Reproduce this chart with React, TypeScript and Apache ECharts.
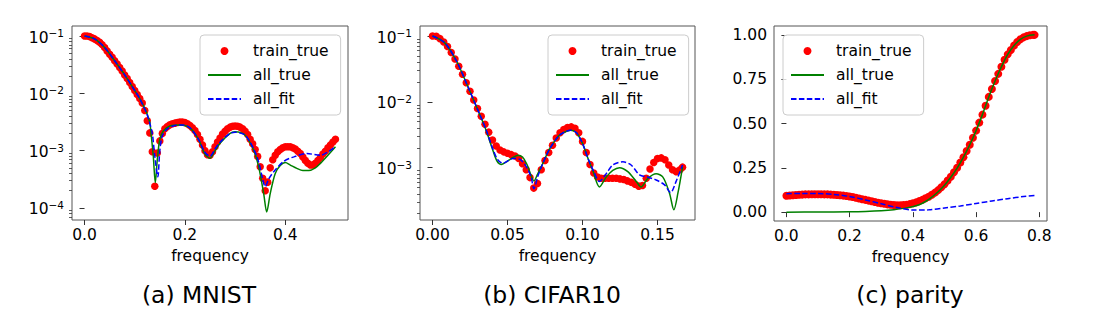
import React, { useEffect, useRef } from "react";
import * as echarts from "echarts";

// ---------------- data ----------------
const SERIES_NAMES = ["train_true", "all_true", "all_fit"];
const PANEL_TITLES = ["(a) MNIST", "(b) CIFAR10", "(c) parity"];
const X_AXIS_NAME = "frequency";

// Panel (a) MNIST
const P1_TRAIN_X = [0, 0.005, 0.01, 0.015, 0.02, 0.025, 0.03, 0.035, 0.04, 0.045, 0.05, 0.055, 0.06, 0.065, 0.07, 0.075, 0.08, 0.085, 0.09, 0.095, 0.1, 0.105, 0.11, 0.115, 0.12, 0.125, 0.13, 0.135, 0.14, 0.145, 0.15, 0.155, 0.16, 0.165, 0.17, 0.175, 0.18, 0.185, 0.19, 0.195, 0.2, 0.205, 0.21, 0.215, 0.22, 0.225, 0.23, 0.235, 0.24, 0.245, 0.25, 0.255, 0.26, 0.265, 0.27, 0.275, 0.28, 0.285, 0.29, 0.295, 0.3, 0.305, 0.31, 0.315, 0.32, 0.325, 0.33, 0.335, 0.34, 0.345, 0.35, 0.355, 0.36, 0.365, 0.37, 0.375, 0.38, 0.385, 0.39, 0.395, 0.4, 0.405, 0.41, 0.415, 0.42, 0.425, 0.43, 0.435, 0.44, 0.445, 0.45, 0.455, 0.46, 0.465, 0.47, 0.475, 0.48, 0.485, 0.49, 0.495, 0.5];
const P1_TRAIN_Y = [0.1, 0.1, 0.0977, 0.0933, 0.0891, 0.0832, 0.0776, 0.0708, 0.0631, 0.055, 0.0479, 0.0427, 0.0372, 0.0324, 0.0282, 0.0245, 0.0209, 0.0182, 0.0155, 0.0132, 0.0112, 0.00955, 0.00813, 0.00676, 0.00501, 0.00331, 0.00204, 0.000955, 0.00024, 0.000912, 0.00148, 0.002, 0.0024, 0.00263, 0.00282, 0.00295, 0.00302, 0.00309, 0.00316, 0.00316, 0.00309, 0.00295, 0.00275, 0.00251, 0.00224, 0.00191, 0.00158, 0.00126, 0.001, 0.000851, 0.000832, 0.000955, 0.00117, 0.00141, 0.00166, 0.00195, 0.00219, 0.0024, 0.00257, 0.00266, 0.00269, 0.00266, 0.00257, 0.0024, 0.00219, 0.00191, 0.00158, 0.00132, 0.00105, 0.000794, 0.000525, 0.000331, 0.0002, 0.000282, 0.000501, 0.000692, 0.000832, 0.000955, 0.00105, 0.00112, 0.00117, 0.00117, 0.00117, 0.00112, 0.00107, 0.000977, 0.000891, 0.000776, 0.000676, 0.000603, 0.000562, 0.000562, 0.000603, 0.000676, 0.000759, 0.000871, 0.000977, 0.00112, 0.00126, 0.00141, 0.00158];
const P1_TRUE_X = [0, 0.02, 0.04, 0.06, 0.08, 0.1, 0.11, 0.12, 0.125, 0.13, 0.133, 0.137, 0.141, 0.145, 0.15, 0.157, 0.17, 0.19, 0.21, 0.227, 0.24, 0.25, 0.26, 0.27, 0.29, 0.3, 0.32, 0.337, 0.347, 0.357, 0.363, 0.37, 0.38, 0.39, 0.4, 0.41, 0.423, 0.435, 0.447, 0.46, 0.47, 0.485, 0.5];
const P1_TRUE_Y = [0.1, 0.089, 0.063, 0.037, 0.021, 0.0112, 0.0081, 0.0055, 0.0043, 0.0031, 0.0018, 0.0008, 0.000275, 0.0007, 0.00158, 0.0022, 0.0027, 0.0028, 0.0025, 0.00158, 0.00087, 0.00074, 0.001, 0.00135, 0.002, 0.00214, 0.00186, 0.00102, 0.00052, 0.000178, 0.000085, 0.000178, 0.0004, 0.00055, 0.00062, 0.00056, 0.00049, 0.00045, 0.00045, 0.0005, 0.0006, 0.00083, 0.00117];
const P1_FIT_X = [0, 0.02, 0.04, 0.06, 0.08, 0.1, 0.11, 0.12, 0.125, 0.13, 0.135, 0.14, 0.146, 0.15, 0.155, 0.165, 0.18, 0.195, 0.21, 0.227, 0.24, 0.25, 0.26, 0.27, 0.29, 0.3, 0.32, 0.337, 0.347, 0.355, 0.36, 0.367, 0.377, 0.397, 0.417, 0.443, 0.47, 0.485, 0.5];
const P1_FIT_Y = [0.1, 0.089, 0.063, 0.037, 0.021, 0.0112, 0.0081, 0.0053, 0.0042, 0.003, 0.002, 0.0008, 0.00035, 0.001, 0.0018, 0.0024, 0.00275, 0.0028, 0.0025, 0.00158, 0.00093, 0.0008, 0.00107, 0.0014, 0.002, 0.0021, 0.00186, 0.00107, 0.00063, 0.00032, 0.000234, 0.00032, 0.00043, 0.00065, 0.00078, 0.00089, 0.00083, 0.00095, 0.00117];
const P1_X_TICKS = [0, 0.2, 0.4];
const P1_Y_TICKS = [1e-4, 1e-3, 1e-2, 1e-1];

// Panel (b) CIFAR10
const P2_TRAIN_X = [0, 0.0025, 0.005, 0.0075, 0.01, 0.0125, 0.015, 0.0175, 0.02, 0.0225, 0.025, 0.0275, 0.03, 0.0325, 0.035, 0.0375, 0.04, 0.0425, 0.045, 0.0475, 0.05, 0.0525, 0.055, 0.0575, 0.06, 0.0625, 0.065, 0.0675, 0.07, 0.0725, 0.075, 0.0775, 0.08, 0.0825, 0.085, 0.0875, 0.09, 0.0925, 0.095, 0.0975, 0.1, 0.1025, 0.105, 0.1075, 0.11, 0.1125, 0.115, 0.1175, 0.12, 0.1225, 0.125, 0.1275, 0.13, 0.1325, 0.135, 0.1375, 0.14, 0.1425, 0.145, 0.1475, 0.15, 0.1525, 0.155, 0.1575, 0.16, 0.1625, 0.165, 0.1667];
const P2_TRAIN_Y = [0.1, 0.0989, 0.0912, 0.0813, 0.0692, 0.0562, 0.0447, 0.0347, 0.0263, 0.0195, 0.0145, 0.0107, 0.00794, 0.00603, 0.00457, 0.00347, 0.00263, 0.00214, 0.00186, 0.00174, 0.00166, 0.00158, 0.00151, 0.00138, 0.00115, 0.000933, 0.000708, 0.00049, 0.000575, 0.000933, 0.00129, 0.0017, 0.00219, 0.00282, 0.00339, 0.0038, 0.00407, 0.00417, 0.00398, 0.00339, 0.00251, 0.0017, 0.00112, 0.000832, 0.000724, 0.000692, 0.000692, 0.000692, 0.000692, 0.000692, 0.000676, 0.000661, 0.000631, 0.000603, 0.000562, 0.000525, 0.000537, 0.000692, 0.000955, 0.0012, 0.00138, 0.00141, 0.00132, 0.0011, 0.000933, 0.000871, 0.000933, 0.00102];
const P2_TRUE_X = [0, 0.008, 0.016, 0.024, 0.032, 0.036, 0.04, 0.043, 0.046, 0.05, 0.054, 0.057, 0.06, 0.063, 0.0655, 0.0676, 0.07, 0.0736, 0.078, 0.084, 0.088, 0.092, 0.096, 0.1, 0.104, 0.107, 0.1113, 0.1158, 0.1202, 0.1247, 0.1302, 0.1358, 0.139, 0.1436, 0.1491, 0.1536, 0.158, 0.1609, 0.1636, 0.1667];
const P2_TRUE_Y = [0.1, 0.0794, 0.0417, 0.0162, 0.00603, 0.00355, 0.00191, 0.00126, 0.00112, 0.00126, 0.00145, 0.00155, 0.00145, 0.00112, 0.00079, 0.00063, 0.00079, 0.00117, 0.00191, 0.00302, 0.00347, 0.00372, 0.00339, 0.00234, 0.00132, 0.00089, 0.00051, 0.00072, 0.00091, 0.001, 0.00087, 0.00062, 0.00051, 0.00069, 0.00081, 0.00072, 0.00041, 0.00023, 0.00041, 0.00102];
const P2_FIT_X = [0, 0.008, 0.016, 0.024, 0.032, 0.036, 0.04, 0.0435, 0.047, 0.0536, 0.058, 0.0624, 0.0658, 0.0676, 0.0702, 0.0736, 0.078, 0.084, 0.088, 0.092, 0.096, 0.1, 0.104, 0.107, 0.1113, 0.1158, 0.1202, 0.1269, 0.1324, 0.138, 0.1436, 0.1491, 0.1547, 0.1587, 0.1624, 0.1667];
const P2_FIT_Y = [0.1, 0.0794, 0.0417, 0.0162, 0.00603, 0.00363, 0.002, 0.00132, 0.00117, 0.00138, 0.00135, 0.00105, 0.00071, 0.00048, 0.00074, 0.00117, 0.00191, 0.00302, 0.00347, 0.00372, 0.00339, 0.00234, 0.00132, 0.00093, 0.00062, 0.00081, 0.0011, 0.00123, 0.0011, 0.00078, 0.00072, 0.00065, 0.00055, 0.00042, 0.00062, 0.0011];
const P2_X_TICKS = [0, 0.05, 0.1, 0.15];
const P2_Y_TICKS = [1e-3, 1e-2, 1e-1];

// Panel (c) parity
const P3_TRAIN_X = [0, 0.01, 0.02, 0.03, 0.04, 0.05, 0.06, 0.07, 0.08, 0.09, 0.1, 0.11, 0.12, 0.13, 0.14, 0.15, 0.16, 0.17, 0.18, 0.19, 0.2, 0.21, 0.22, 0.23, 0.24, 0.25, 0.26, 0.27, 0.28, 0.29, 0.3, 0.31, 0.32, 0.33, 0.34, 0.35, 0.36, 0.37, 0.38, 0.39, 0.4, 0.41, 0.42, 0.43, 0.44, 0.45, 0.46, 0.47, 0.48, 0.49, 0.5, 0.51, 0.52, 0.53, 0.54, 0.55, 0.56, 0.57, 0.58, 0.59, 0.6, 0.61, 0.62, 0.63, 0.64, 0.65, 0.66, 0.67, 0.68, 0.69, 0.7, 0.71, 0.72, 0.73, 0.74, 0.75, 0.76, 0.77, 0.78, 0.785];
const P3_TRAIN_Y = [0.092, 0.094, 0.095, 0.097, 0.098, 0.099, 0.1, 0.1, 0.101, 0.101, 0.101, 0.101, 0.1, 0.1, 0.099, 0.098, 0.097, 0.095, 0.093, 0.091, 0.088, 0.085, 0.081, 0.077, 0.073, 0.069, 0.065, 0.061, 0.057, 0.053, 0.05, 0.047, 0.044, 0.042, 0.04, 0.039, 0.039, 0.04, 0.042, 0.045, 0.05, 0.055, 0.062, 0.069, 0.078, 0.087, 0.098, 0.11, 0.124, 0.14, 0.157, 0.178, 0.2, 0.225, 0.25, 0.28, 0.31, 0.345, 0.38, 0.42, 0.46, 0.505, 0.55, 0.6, 0.65, 0.695, 0.74, 0.78, 0.82, 0.86, 0.89, 0.915, 0.94, 0.96, 0.975, 0.986, 0.993, 0.998, 1.0, 1.0];
const P3_TRUE_X = [0, 0.1, 0.2, 0.25, 0.3, 0.34, 0.38, 0.42, 0.44, 0.46, 0.48, 0.5, 0.52, 0.54, 0.56, 0.58, 0.6, 0.62, 0.64, 0.66, 0.68, 0.7, 0.72, 0.74, 0.76, 0.785];
const P3_TRUE_Y = [0, 0.0005, 0.002, 0.004, 0.008, 0.014, 0.024, 0.042, 0.06, 0.085, 0.115, 0.152, 0.197, 0.248, 0.31, 0.38, 0.46, 0.55, 0.65, 0.74, 0.82, 0.89, 0.94, 0.975, 0.993, 1.0];
const P3_FIT_X = [0, 0.05, 0.1, 0.15, 0.2, 0.25, 0.3, 0.35, 0.4, 0.45, 0.5, 0.55, 0.6, 0.65, 0.7, 0.75, 0.785];
const P3_FIT_Y = [0.104, 0.105, 0.105, 0.1, 0.088, 0.069, 0.047, 0.026, 0.012, 0.013, 0.023, 0.035, 0.049, 0.063, 0.076, 0.088, 0.094];
const P3_X_TICKS = [0, 0.2, 0.4, 0.6, 0.8];
const P3_Y_TICKS = [0, 0.25, 0.5, 0.75, 1.0];

// minor log ticks (2..9 x 10^k)
const MINOR_MULTS = [2, 3, 4, 5, 6, 7, 8, 9];
const MINOR_DECADES = [1e-5, 1e-4, 1e-3, 1e-2, 1e-1];

// ---------------- styling ----------------
const FONT = '"DejaVu Sans", Verdana, sans-serif';
const FS = 15.5;
const RED = "#ff0000";
const GREEN = "#008000";
const BLUE = "#0000ff";
const SPINE = "#555555";

const zip = (xs: number[], ys: number[]) => xs.map((x, i) => [x, ys[i]]);
const minorTicks = MINOR_DECADES.flatMap((d) => MINOR_MULTS.map((m) => +(m * d).toPrecision(3)));

const GRIDS = [
  { left: 72, top: 26, width: 276, height: 194 },
  { left: 420, top: 26, width: 275, height: 194 },
  { left: 774, top: 26, width: 273, height: 195 },
];
const LEGEND_LEFT = [200, 548, 783];
const TITLE_X = [199, 552, 910];

export default function App() {
  const ref = useRef<HTMLDivElement>(null);
  useEffect(() => {
    if (!ref.current) return;
    const chart = echarts.init(ref.current, undefined, { renderer: "svg" });

    const textBase = { fontFamily: FONT, fontSize: FS, color: "#000" };

    const xAxisCfg = (gi: number, min: number, max: number, ticks: number[], dec: number) => ({
      type: "value",
      gridIndex: gi,
      min,
      max,
      axisLine: { show: false },
      splitLine: { show: false },
      axisTick: { show: true, length: 5, lineStyle: { color: "#333", width: 1 }, customValues: ticks },
      axisLabel: { ...textBase, margin: 7, customValues: ticks, formatter: (v: number) => v.toFixed(dec) },
      name: X_AXIS_NAME,
      nameLocation: "middle",
      nameGap: 28,
      nameTextStyle: { ...textBase },
    });

    const logLabel = (v: number) => {
      const e = Math.round(Math.log10(v));
      return "{b|10}{s|\u2212" + Math.abs(e) + "}";
    };
    const rich = {
      b: { fontFamily: FONT, fontSize: FS, color: "#000", lineHeight: 17, padding: [3, 0, 0, 0] },
      s: { fontFamily: FONT, fontSize: 10.5, color: "#000", lineHeight: 12, verticalAlign: "top" },
    };

    const logAxis = (gi: number, emin: number, emax: number, ticks: number[]) => ({
      type: "log",
      logBase: 10,
      gridIndex: gi,
      position: "left",
      min: Math.pow(10, emin),
      max: Math.pow(10, emax),
      axisLine: { show: false },
      splitLine: { show: false },
      axisTick: { show: true, length: 5, lineStyle: { color: "#333", width: 1 }, customValues: ticks },
      axisLabel: { margin: 8, customValues: ticks, formatter: logLabel, rich },
    });
    const logMinorAxis = (gi: number, emin: number, emax: number) => ({
      type: "log",
      logBase: 10,
      gridIndex: gi,
      position: "left",
      offset: 0,
      min: Math.pow(10, emin),
      max: Math.pow(10, emax),
      axisLine: { show: false },
      splitLine: { show: false },
      axisLabel: { show: false },
      axisTick: { show: true, length: 3, lineStyle: { color: "#333", width: 0.8 }, customValues: minorTicks },
    });

    const scatter = (xi: number, yi: number, xs: number[], ys: number[], size: number) => ({
      type: "scatter",
      name: SERIES_NAMES[0],
      xAxisIndex: xi,
      yAxisIndex: yi,
      data: zip(xs, ys),
      symbol: "circle",
      symbolSize: size,
      itemStyle: { color: RED, opacity: 1 },
      z: 1,
    });
    const line = (xi: number, yi: number, xs: number[], ys: number[], which: number) => ({
      type: "line",
      name: SERIES_NAMES[which],
      xAxisIndex: xi,
      yAxisIndex: yi,
      data: zip(xs, ys),
      symbol: "none",
      showSymbol: false,
      smooth: 0.3,
      itemStyle: { color: which === 1 ? GREEN : BLUE },
      lineStyle: which === 1
        ? { color: GREEN, width: 1.5, type: "solid" }
        : { color: BLUE, width: 1.5, type: [5.5, 2.4] },
      z: which === 1 ? 2 : 3,
    });

    const legendCfg = (left: number) => ({
      orient: "vertical",
      left,
      top: 35,
      data: [
        { name: SERIES_NAMES[0], icon: "circle" },
        { name: SERIES_NAMES[1], itemStyle: { opacity: 0 } },
        { name: SERIES_NAMES[2], itemStyle: { opacity: 0 } },
      ],
      itemWidth: 33,
      itemHeight: 8,
      itemGap: 8,
      padding: [8, 12, 8, 7],
      backgroundColor: "rgba(255,255,255,0.8)",
      borderColor: "#cccccc",
      borderWidth: 1,
      borderRadius: 4,
      selectedMode: false,
      textStyle: { ...textBase, padding: [0, 0, 0, 7] },
    });

    const option: any = {
      animation: false,
      backgroundColor: "#ffffff",
      grid: GRIDS.map((g) => ({
        ...g,
        show: true,
        borderColor: SPINE,
        borderWidth: 1,
        backgroundColor: "transparent",
        containLabel: false,
        outerBoundsMode: "none",
      })),
      xAxis: [
        xAxisCfg(0, -0.025, 0.525, P1_X_TICKS, 1),
        xAxisCfg(1, -0.0083333, 0.175, P2_X_TICKS, 2),
        xAxisCfg(2, -0.03925, 0.82425, P3_X_TICKS, 1),
      ],
      yAxis: [
        logAxis(0, -4.21, -0.825, P1_Y_TICKS),
        logMinorAxis(0, -4.21, -0.825),
        logAxis(1, -3.794, -0.848, P2_Y_TICKS),
        logMinorAxis(1, -3.794, -0.848),
        {
          type: "value",
          gridIndex: 2,
          position: "left",
          min: -0.05,
          max: 1.05,
          axisLine: { show: false },
          splitLine: { show: false },
          axisTick: { show: true, length: 5, lineStyle: { color: "#333", width: 1 }, customValues: P3_Y_TICKS },
          axisLabel: { ...textBase, margin: 7, customValues: P3_Y_TICKS, formatter: (v: number) => v.toFixed(2) },
        },
      ],
      legend: LEGEND_LEFT.map((l) => legendCfg(l)),
      series: [
        scatter(0, 0, P1_TRAIN_X, P1_TRAIN_Y, 7.5),
        line(0, 0, P1_TRUE_X, P1_TRUE_Y, 1),
        line(0, 0, P1_FIT_X, P1_FIT_Y, 2),
        scatter(1, 2, P2_TRAIN_X, P2_TRAIN_Y, 7.5),
        line(1, 2, P2_TRUE_X, P2_TRUE_Y, 1),
        line(1, 2, P2_FIT_X, P2_FIT_Y, 2),
        scatter(2, 4, P3_TRAIN_X, P3_TRAIN_Y, 8),
        line(2, 4, P3_TRUE_X, P3_TRUE_Y, 1),
        line(2, 4, P3_FIT_X, P3_FIT_Y, 2),
      ],
      graphic: TITLE_X.map((x, i) => ({
        type: "text",
        x,
        y: 295,
        silent: true,
        style: {
          text: PANEL_TITLES[i],
          fontFamily: FONT,
          fontSize: 23.5,
          fill: "#000",
          align: "center",
          verticalAlign: "middle",
        },
      })),
    };

    chart.setOption(option);
    return () => chart.dispose();
  }, []);

  return (
    <div
      ref={ref}
      style={{ position: "absolute", left: 0, top: 0, width: 1100, height: 309, background: "#fff" }}
    />
  );
}
